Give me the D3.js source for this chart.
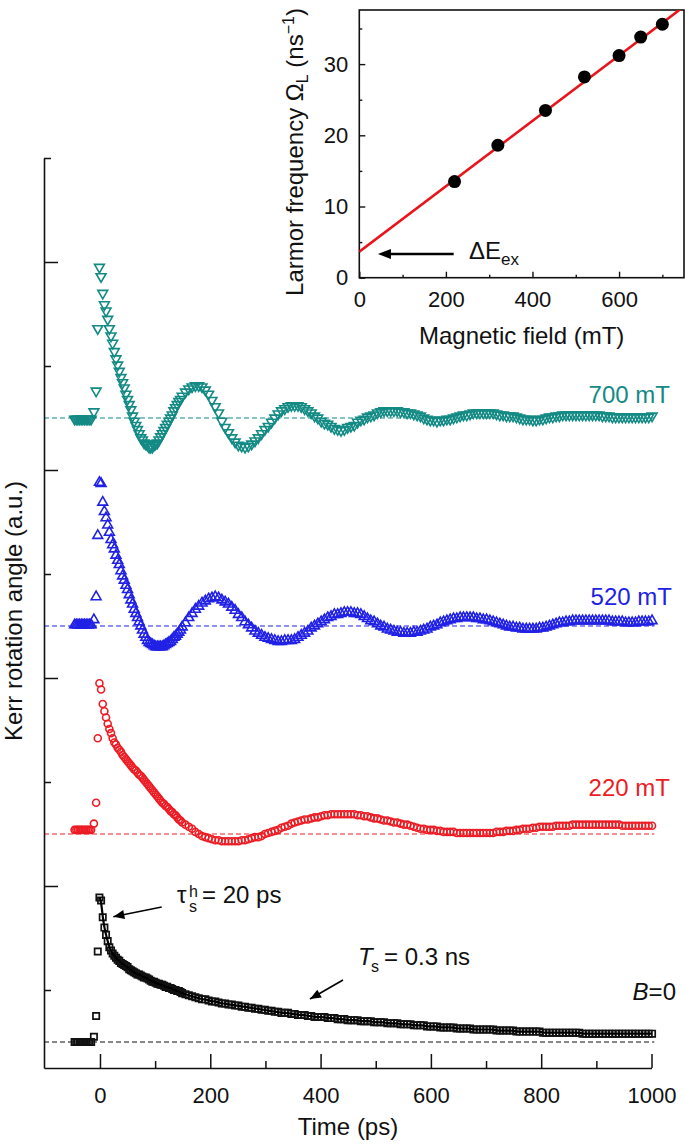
<!DOCTYPE html>
<html><head><meta charset="utf-8">
<script src="https://cdn.jsdelivr.net/npm/d3@7"></script>
<style>body{margin:0;background:#fff}text{font-family:"Liberation Sans",Arial,sans-serif;fill:#111}</style>
</head><body><svg id="c" width="685" height="1144"></svg>
<script>
// ---------- DATA ----------
const timePs = [-46,-43,-40,-37,-34,-31,-28,-25,-22,-19,-16,-11,-7,-4,
-1,2,5,8,11,14,17,20,23,26, 29,32,35,38,41,44,47,50,53,56, 59,62,65,68,71,74,77,80,83,86,
89,92,95,98,101,104,107,110,113,116, 119,122,125,128,131,134,137,140,143,146, 149,
155,161,167,173,179,185,191,197,203,209, 215,221,227,233,239,245,251,257,263,269,
275,281,287,293,299,305,311,317,323,329, 335,341,347,353,359,365,371,377,383,389,
395,401,407,413,419,425,431,437,443,449, 455,461,467,473,479,485,491,497,503,509,
515,521,527,533,539,545,551,557,563,569, 575,581,587,593,599,605,611,617,623,629,
635,641,647,653,659,665,671,677,683,689, 695,701,707,713,719,725,731,737,743,749,
755,761,767,773,779,785,791,797,803,809, 815,821,827,833,839,845,851,857,863,869,
875,881,887,893,899,905,911,917,923,929, 935,941,947,953,959,965,971,977,983,989,
995,1001];

const kerr700 = [-1,-1,-1,-1,-1,-1,-1,-1,-1,-1,-1,6,26,86,
145,136,120,109,103,95,86,79,72,64, 57,51,45,39,34,29,23,18,13,8, 2,-3,-7,-11,-15,-19,-21,-24,-25,-26,
-28,-28,-28,-26,-25,-24,-21,-18,-15,-12, -9,-6,-3,0,3,7,10,13,16,18, 21,
25,28,30,31,31,30,27,23,17,11, 5,-3,-9,-14,-19,-23,-26,-27,-28,-27,
-25,-22,-19,-15,-11,-8,-4,0,4,7, 9,11,12,12,12,11,9,7,5,2,
0,-3,-5,-6,-8,-10,-11,-12,-11,-9, -8,-7,-4,-2,-1,1,2,3,5,6,
7,7,7,7,7,6,6,5,5,4, 3,2,0,-1,-2,-2,-3,-2,-2,-1,
-1,0,1,2,3,3,4,5,5,5, 5,5,5,5,4,3,3,2,2,2,
1,0,-1,-1,-1,-2,-2,-1,-1,0, 1,1,2,2,3,3,3,3,3,3,
3,3,3,3,3,3,2,2,2,1, 1,1,1,1,1,1,1,1,1,1,
1,2];

const kerr520 = [1,1,1,1,1,1,1,1,1,1,1,6,28,87,
138,137,119,110,104,97,90,83,78,74, 68,63,59,53,48,44,39,35,30,25, 21,16,12,8,4,0,-4,-8,-11,-14,
-16,-17,-18,-19,-20,-20,-20,-20,-20,-19, -18,-17,-16,-15,-13,-11,-10,-8,-6,-4, -1,
3,8,12,16,19,22,24,26,27,28, 27,25,23,21,18,15,11,8,4,1,
-2,-5,-7,-9,-11,-12,-13,-14,-15,-15, -14,-14,-14,-13,-11,-9,-7,-5,-2,0,
2,4,6,8,9,11,11,12,13,13, 13,12,12,11,9,7,5,4,2,0,
-1,-3,-4,-5,-6,-6,-7,-7,-7,-6, -6,-5,-4,-3,-1,0,1,3,4,5,
6,7,7,8,8,8,8,8,7,7, 6,6,5,4,3,2,1,0,-1,-1,
-2,-2,-3,-3,-3,-3,-3,-2,-2,-1, 0,1,2,3,3,4,4,5,5,5,
5,5,5,5,5,5,5,5,5,4, 4,4,4,3,3,3,3,4,4,4,
4,5];

const kerr220 = [4,4,4,4,4,4,4,4,4,4,4,10,30,92,
145,139,125,118,112,106,101,97,92,88, 86,83,81,79,76,74,72,70,68,66, 64,62,61,59,57,56,54,52,50,48,
46,44,42,40,38,36,34,32,30,29, 27,26,24,22,21,19,18,16,14,13, 11,
9,7,5,2,0,-2,-3,-4,-5,-6, -6,-7,-7,-7,-7,-7,-7,-6,-6,-5,
-4,-3,-3,-2,0,1,2,3,4,6, 7,8,10,11,12,13,14,14,15,16,
16,17,18,18,19,19,19,19,19,19, 19,19,18,18,17,17,16,15,15,14,
13,13,12,11,11,10,9,9,8,7, 6,5,5,4,4,4,3,3,2,2,
2,2,1,1,1,1,1,1,1,1, 1,1,1,1,2,2,2,3,3,3,
4,4,5,5,5,6,6,7,7,7, 7,7,8,8,8,8,8,9,9,9,
9,9,9,9,9,9,9,9,9,9, 9,9,8,8,8,8,8,8,8,8,
8,8];

const kerrB0 = [0,0,0,0,0,0,0,0,0,0,0,5,25,87,
139,136,120,110,103,97,91,88,85,83, 81,79,78,76,75,74,73,72,70,69, 68,67,66,65,65,64,63,62,62,61,
60,59,58,58,57,56,56,55,55,54, 53,53,52,52,51,50,50,49,49,48, 47,
46,45,44,43,42,41,41,40,39,39, 38,37,37,36,36,35,35,34,34,33,
33,32,32,31,31,30,30,29,29,28, 28,28,27,27,26,26,26,25,25,24,
24,24,24,23,23,23,22,22,22,21, 21,21,21,20,20,20,20,19,19,19,
19,18,18,18,18,17,17,17,17,16, 16,16,16,15,15,15,15,14,14,14,
14,14,13,13,13,13,13,12,12,12, 12,12,12,12,11,11,11,11,11,11,
10,10,10,10,10,10,10,10,9,9, 9,9,9,9,9,9,9,9,9,9,
8,8,8,8,8,8,8,8,8,8, 8,8,8,8,8,8,8,8,8,8,
8,8];

const seriesLabels = ["700 mT","520 mT","220 mT","B=0"];
const seriesOffsets = [550, 350, 150, -50];
const xTickMajor = [0,200,400,600,800,1000];
const xTickMinor = [100,300,500,700,900];
const yTickMajor = [100,300,500,700];
const yTickMinor = [0,200,400,600,800];

// inset
const fieldMT = [220,320,430,520,600,650,700];
const larmorFreq = [13.5,18.6,23.5,28.2,31.2,33.8,35.6];
const fitField = [0, 750];
const fitFreq = [3.66, 38.09];
const insetXMajor = [0,200,400,600];
const insetXMinor = [100,300,500,700];
const insetYMajor = [0,10,20,30];
const insetYMinor = [5,15,25,35];

// ---------- DRAW ----------
const svg = d3.select("#c");
const FONT = 24, TFONT = 22;
const colors = ["#138a84","#2121e6","#ec1c24","#111111"];

const x = d3.scaleLinear().domain([-101.5,1000]).range([44,651.5]);
const y = d3.scaleLinear().domain([-75,800]).range([1068,158]);

// baselines (dashed)
seriesOffsets.forEach((o,i)=>{
  svg.append("line").attr("x1",x(-101.5)).attr("x2",x(1005)).attr("y1",y(o)).attr("y2",y(o))
    .attr("stroke",colors[i]).attr("stroke-width",1.1).attr("stroke-dasharray","5,3");
});

const allSeries = [kerr700,kerr520,kerr220,kerrB0];
const symbols = [
  d3.symbol(d3.symbolTriangle,42),
  d3.symbol(d3.symbolTriangle,42),
  null,
  d3.symbol(d3.symbolSquare,40)
];
allSeries.forEach((vals,i)=>{
  const n = Math.min(vals.length,timePs.length);
  const pts = d3.range(n).map(k=>({t:timePs[k], v:vals[k]+seriesOffsets[i]}));
  const g = svg.append("g").attr("fill","none").attr("stroke",colors[i]).attr("stroke-width",i===3?1.7:1.6);
  if(i===2){
    g.selectAll("circle").data(pts).join("circle")
      .attr("cx",d=>x(d.t)).attr("cy",d=>y(d.v)).attr("r",3.5);
  } else {
    g.selectAll("path").data(pts).join("path")
      .attr("d",symbols[i])
      .attr("transform",d=>`translate(${x(d.t)},${y(d.v)})`+(i===0?" rotate(180)":""));
  }
  if(i===3){
    const fitPts = pts.filter(d=>d.t>=-1);
    svg.append("path").datum(fitPts)
      .attr("d",d3.line().x(d=>x(d.t)).y(d=>y(d.v)).curve(d3.curveBasis))
      .attr("fill","none").attr("stroke","#000").attr("stroke-width",2.2);
  }
});

// axes
const axMajX = d3.axisBottom(x).tickValues(xTickMajor).tickFormat(d3.format("d")).tickSizeInner(-14).tickSizeOuter(0).tickPadding(19);
const axMinX = d3.axisBottom(x).tickValues(xTickMinor).tickSizeInner(-7).tickSizeOuter(0).tickFormat("");
const gx = svg.append("g").attr("transform","translate(0,1068)").call(axMajX);
svg.append("g").attr("transform","translate(0,1068)").call(axMinX).select(".domain").remove();
const axMajY = d3.axisLeft(y).tickValues(yTickMajor).tickSizeInner(-14).tickSizeOuter(0).tickFormat("");
const axMinY = d3.axisLeft(y).tickValues(yTickMinor).tickSizeInner(-7).tickSizeOuter(0).tickFormat("");
svg.append("g").attr("transform","translate(44,0)").call(axMajY);
svg.append("g").attr("transform","translate(44,0)").call(axMinY).select(".domain").remove();
svg.selectAll(".domain").attr("stroke","#111").attr("stroke-width",1.6);
svg.selectAll(".tick line").attr("stroke","#111").attr("stroke-width",1.5);
gx.selectAll(".tick text").attr("font-size",TFONT).attr("font-family","Liberation Sans").attr("fill","#111");

svg.append("text").attr("x",(44+652)/2).attr("y",1135).attr("text-anchor","middle").attr("font-size",FONT).text("Time (ps)");
svg.append("text").attr("transform","translate(22,611) rotate(-90)").attr("text-anchor","middle").attr("font-size",FONT)
  .text("Kerr rotation angle (a.u.)");

// series labels
const labelPos = [[1033.5,564.4],[1037,370.2],[1033.5,186.5],[1044.4,-9.6]];
seriesLabels.forEach((s,i)=>{
  const t = svg.append("text").attr("x",x(labelPos[i][0])).attr("y",y(labelPos[i][1]))
    .attr("text-anchor","end").attr("font-size",FONT).style("fill",colors[i]);
  if(i===3){
    t.append("tspan").attr("font-style","italic").text("B");
    t.append("tspan").text("=0");
  } else t.text(s);
});

// arrow helper
function arrow(x1,y1,x2,y2,w,head,hw){
  svg.append("line").attr("x1",x1).attr("y1",y1).attr("x2",x2).attr("y2",y2)
    .attr("stroke","#000").attr("stroke-width",w);
  const a = Math.atan2(y2-y1,x2-x1);
  const bx = x2-head*Math.cos(a), by = y2-head*Math.sin(a);
  const px = -Math.sin(a)*hw, py = Math.cos(a)*hw;
  svg.append("path").attr("d",`M${x2},${y2}L${bx+px},${by+py}L${bx-px},${by-py}Z`).attr("fill","#000");
}
// annotations main
arrow(x(111.9),y(79.8),x(24.2),y(70.5),1.6,11,4.5);
arrow(x(440.6),y(9.6),x(380.8),y(-8.7),1.6,11,4.5);
svg.append("text").attr("x",x(139.7)).attr("y",y(83.7)).attr("font-size",FONT).text("τ");
svg.append("text").attr("x",x(139.7)+12).attr("y",y(83.7)-6).attr("font-size",16).text("h");
svg.append("text").attr("x",x(139.7)+12).attr("y",y(83.7)+9).attr("font-size",16).text("s");
svg.append("text").attr("x",x(139.7)+25).attr("y",y(83.7)).attr("font-size",FONT).text("= 20 ps");
svg.append("text").attr("x",x(467.8)).attr("y",y(24)).attr("font-size",FONT).attr("font-style","italic").text("T");
svg.append("text").attr("x",x(467.8)+13).attr("y",y(24)+7).attr("font-size",16).text("s");
svg.append("text").attr("x",x(467.8)+26).attr("y",y(24)).attr("font-size",FONT).text("= 0.3 ns");

// ---------- INSET ----------
const xi = d3.scaleLinear().domain([0,750]).range([359.3,684]);
const yi = d3.scaleLinear().domain([0,37.6]).range([277.7,10]);
const inset = svg.append("g");
inset.append("rect").attr("x",xi(0)).attr("y",yi(37.6)).attr("width",xi(750)-xi(0)).attr("height",yi(0)-yi(37.6))
  .attr("fill","#fff").attr("stroke","#111").attr("stroke-width",1.6);
svg.append("clipPath").attr("id","ic").append("rect").attr("x",xi(0)).attr("y",yi(37.6))
  .attr("width",xi(750)-xi(0)).attr("height",yi(0)-yi(37.6));
inset.append("path").datum(d3.zip(fitField,fitFreq)).attr("clip-path","url(#ic)")
  .attr("d",d3.line().x(d=>xi(d[0])).y(d=>yi(d[1]))).attr("stroke","#e8161c").attr("stroke-width",2.6).attr("fill","none");
inset.selectAll("circle.pt").data(d3.zip(fieldMT,larmorFreq)).join("circle").attr("class","pt")
  .attr("cx",d=>xi(d[0])).attr("cy",d=>yi(d[1])).attr("r",6.5).attr("fill","#000");
const ixa = d3.axisBottom(xi).tickValues(insetXMajor).tickSizeInner(-6).tickSizeOuter(0).tickPadding(14);
const ixm = d3.axisBottom(xi).tickValues(insetXMinor).tickSizeInner(-3).tickSizeOuter(0).tickFormat("");
const iya = d3.axisLeft(yi).tickValues(insetYMajor).tickSizeInner(-6).tickSizeOuter(0).tickPadding(11);
const iym = d3.axisLeft(yi).tickValues(insetYMinor).tickSizeInner(-3).tickSizeOuter(0).tickFormat("");
[[ixa,`translate(0,${yi(0)})`],[ixm,`translate(0,${yi(0)})`],[iya,`translate(${xi(0)},0)`],[iym,`translate(${xi(0)},0)`]]
  .forEach(([a,tr])=>{
    const g = inset.append("g").attr("transform",tr).call(a);
    g.select(".domain").remove();
    g.selectAll(".tick line").attr("stroke","#111").attr("stroke-width",1.4);
    g.selectAll(".tick text").attr("font-size",TFONT).attr("font-family","Liberation Sans").attr("fill","#111");
  });
inset.append("text").attr("x",(xi(0)+xi(750))/2).attr("y",344).attr("text-anchor","middle").attr("font-size",FONT).text("Magnetic field (mT)");
const yl = inset.append("text").attr("transform","translate(303,152) rotate(-90)").attr("text-anchor","middle").attr("font-size",FONT);
yl.append("tspan").text("Larmor frequency Ω");
yl.append("tspan").attr("font-size",16).attr("dy",5).text("L");
yl.append("tspan").attr("dy",-5).text(" (ns");
yl.append("tspan").attr("font-size",16).attr("dy",-9).text("−1");
yl.append("tspan").attr("dy",9).text(")");
// ΔE arrow
(function(){
  const x1=xi(218), x2=xi(43), yy=yi(3.33);
  svg.append("line").attr("x1",x1).attr("x2",x2+8).attr("y1",yy).attr("y2",yy).attr("stroke","#000").attr("stroke-width",2.5);
  svg.append("path").attr("d",`M${x2},${yy}L${x2+13},${yy-5}L${x2+13},${yy+5}Z`).attr("fill","#000");
})();
const de = inset.append("text").attr("x",xi(253.4)).attr("y",yi(2.58)).attr("font-size",FONT);
de.append("tspan").text("ΔE");
de.append("tspan").attr("font-size",17).attr("dy",6).text("ex");
</script></body></html>
